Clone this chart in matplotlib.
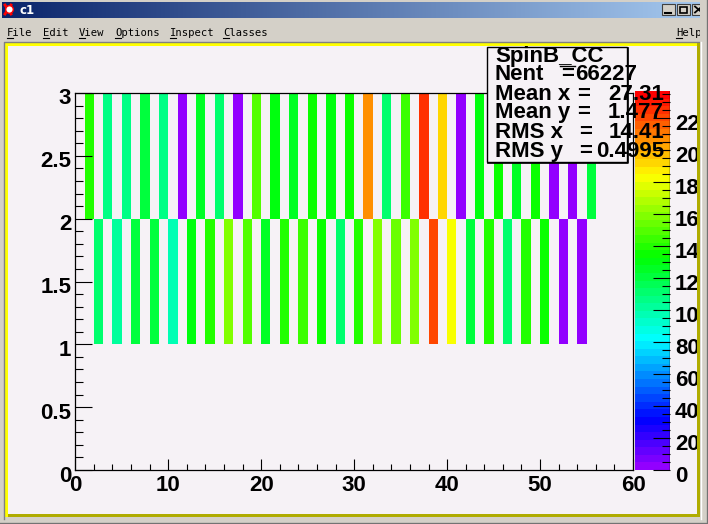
import colorsys
import numpy as np
import matplotlib
matplotlib.use("Agg")
import matplotlib.pyplot as plt
from matplotlib.colors import ListedColormap, Normalize
from matplotlib.patches import Rectangle
from matplotlib.transforms import ScaledTranslation
from matplotlib.ticker import MultipleLocator, FuncFormatter

# bin contents (x bins of width 1)
upper_bins = [1, 3, 5, 7, 9, 11, 13, 15, 17, 19, 21, 23, 25, 27,
              29, 31, 33, 35, 37, 39, 41, 43, 45, 47, 49, 51, 53, 55]
upper_counts = [1400, 1070, 1050, 1210, 1070, 30, 1260, 1120, 30, 1500, 1300, 1260, 1340, 1300,
                1340, 2070, 1120, 1440, 2260, 1930, 30, 1300, 1340, 1260, 1340, 30, 30, 1210]
lower_bins = [2, 4, 6, 8, 10, 12, 14, 16, 18, 20, 22, 24, 26, 28,
              30, 32, 34, 36, 38, 40, 42, 44, 46, 48, 50, 52, 54]
lower_counts = [1100, 1030, 1210, 1190, 950, 1300, 1400, 1600, 1500, 1260, 1400, 1440, 1370, 1120,
                1400, 1600, 1550, 1600, 2200, 1840, 1190, 1400, 1100, 1400, 1340, 30, 30]
z_max = 2370

stat_title = "SpinB_CC"
n_entries = "66227"
stat_names = ["Mean x", "Mean y", "RMS x", "RMS y"]
stat_values = ["27.31", "1.477", "14.41", "0.4995"]

menu_items = ["File", "Edit", "View", "Options", "Inspect", "Classes"]
menu_x = [7, 43, 79, 115, 170, 223]

CANVAS = "#f6f2f6"
GREY = "#d4d0c8"
W, H = 708, 524

plt.rcParams["font.family"] = ["Liberation Sans", "DejaVu Sans"]

# ROOT "pretty" palette: 50 hues violet -> red
palette = [colorsys.hls_to_rgb((280 - (i + 1) * 5.6) / 360.0, 0.5, 1.0) for i in range(50)]
cmap = ListedColormap(palette)
norm = Normalize(0, z_max)

z = np.zeros((3, 60))
z[2, upper_bins] = upper_counts
z[1, lower_bins] = lower_counts
z = np.ma.masked_equal(z, 0)

fig = plt.figure(figsize=(W / 100, H / 100), dpi=100, facecolor=GREY)

# ---- window + canvas frame (pixel coordinates) ----
bg = fig.add_axes([0, 0, 1, 1], zorder=0)
bg.set_xlim(0, W)
bg.set_ylim(H, 0)
bg.axis("off")

grad = np.linspace(0, 1, 256).reshape(1, -1)
bg.imshow(grad, extent=(2, 706, 18, 2), aspect="auto",
          cmap=ListedColormap(np.linspace([0.04, 0.14, 0.42], [0.65, 0.79, 0.94], 256)))
bg.plot([5, 11], [5, 14], color="red", lw=2)
bg.plot([11, 5], [5, 14], color="red", lw=2)
bg.scatter([9], [9], s=30, color="white", edgecolors="red", zorder=3)
bg.text(20, 10, "c1", color="white", fontsize=8.5, fontweight="bold",
        family="DejaVu Sans", va="center")
for bx in [662, 677, 692]:
    bg.add_patch(Rectangle((bx, 4), 13, 11, facecolor=GREY, edgecolor="#404040", lw=0.8))
bg.plot([665, 671], [12.5, 12.5], color="black", lw=1.5)
bg.add_patch(Rectangle((680, 6.5), 7, 6, facecolor="none", edgecolor="black", lw=1.2))
bg.plot([695, 702], [6.5, 12.5], color="black", lw=1.3)
bg.plot([695, 702], [12.5, 6.5], color="black", lw=1.3)

for name, x in zip(menu_items + ["Help"], menu_x + [676]):
    bg.text(x, 35.5, name, fontsize=7.6, family="DejaVu Sans Mono", va="baseline")
    bg.plot([x, x + 5.5], [37.5, 37.5], color="black", lw=0.8)

bg.plot([4, 4, 703], [519, 42, 42], color="#808080", lw=1)
bg.add_patch(Rectangle((5, 43), 3, 474, color="#ffff00", lw=0))
bg.add_patch(Rectangle((5, 43), 695, 3, color="#ffff00", lw=0))
bg.add_patch(Rectangle((8, 514), 692, 3, color="#b0ac00", lw=0))
bg.add_patch(Rectangle((8, 46), 689, 468, color=CANVAS, lw=0))

# ---- the 2D histogram ----
ax = fig.add_axes([75.3 / W, 54 / H, 557.7 / W, 377 / H], zorder=1)
ax.set_facecolor(CANVAS)
mesh = ax.pcolormesh(np.arange(61), np.arange(4), z, cmap=cmap, norm=norm,
                     edgecolors="none", antialiased=False)
ax.set_xlim(0, 60)
ax.set_ylim(0, 3)
ax.xaxis.set_major_locator(MultipleLocator(10))
ax.xaxis.set_minor_locator(MultipleLocator(2))
ax.yaxis.set_major_locator(MultipleLocator(0.5))
ax.yaxis.set_minor_locator(MultipleLocator(0.1))
ax.yaxis.set_major_formatter(FuncFormatter(lambda v, p: "%g" % v))
ax.tick_params(axis="x", which="major", direction="in", length=8, width=0.8,
               labelsize=16, pad=3.5)
ax.tick_params(axis="x", which="minor", direction="in", length=4.3, width=0.8)
ax.tick_params(axis="y", which="major", direction="in", length=12, width=0.8,
               labelsize=16, pad=3)
ax.tick_params(axis="y", which="minor", direction="in", length=5.8, width=0.8)
for lab in ax.get_xticklabels() + ax.get_yticklabels():
    lab.set_fontweight("bold")
shift = ScaledTranslation(0, -3.5 / 100, fig.dpi_scale_trans)
for lab in ax.get_yticklabels():
    lab.set_transform(lab.get_transform() + shift)
for s in ax.spines.values():
    s.set_linewidth(0.9)

# ---- palette axis ----
cax = fig.add_axes([635 / W, 54 / H, 35 / W, 379 / H], zorder=1)
cbar = fig.colorbar(mesh, cax=cax)
cbar.outline.set_visible(False)
cax.axvline(1, color="black", lw=1)
cax.yaxis.set_major_locator(MultipleLocator(200))
cax.yaxis.set_minor_locator(MultipleLocator(50))
cax.tick_params(axis="y", which="major", direction="in", length=12, width=0.8,
                labelsize=16, pad=3.5)
cax.tick_params(axis="y", which="minor", direction="in", length=5.8, width=0.8)
for lab in cax.get_yticklabels():
    lab.set_fontweight("bold")
    lab.set_transform(lab.get_transform() + shift)

# ---- overlay: stats box and right border ----
top = fig.add_axes([0, 0, 1, 1], zorder=3)
top.set_xlim(0, W)
top.set_ylim(H, 0)
top.axis("off")
top.patch.set_visible(False)

top.add_patch(Rectangle((487, 47), 140, 115, facecolor=CANVAS, edgecolor="black", lw=1))
top.plot([628, 628, 488], [48, 163, 163], color="black", lw=1.2)
kw = dict(fontsize=16, fontweight="bold", va="baseline")
top.text(495, 62, stat_title, **kw)
top.plot([560, 575], [65.5, 65.5], color="black", lw=1)
top.text(495, 80, "Nent", **kw)
top.text(561, 80, "=", **kw)
top.text(637, 80, n_entries, ha="right", **kw)
for k, (name, val) in enumerate(zip(stat_names, stat_values)):
    yb = [100, 118, 138, 157][k]
    top.text(495, yb, name, **kw)
    top.text(577 if k < 2 else 579, yb, "=", **kw)
    top.text(664, yb, val, ha="right", **kw)

top.add_patch(Rectangle((697, 43), 3, 474, color="#b0ac00", lw=0))
top.add_patch(Rectangle((700, 0), 8, H, color=GREY, lw=0))
top.plot([701, 701], [42, 519], color="white", lw=1)
top.plot([706.5, 706.5], [0, H], color="#808080", lw=1)
top.plot([707.5, 707.5], [0, H], color="#404040", lw=1)
top.plot([0, W], [522.5, 522.5], color="#808080", lw=1)
top.plot([0, W], [523.5, 523.5], color="#404040", lw=1)

fig.savefig("out.png", dpi=100, facecolor=GREY)
